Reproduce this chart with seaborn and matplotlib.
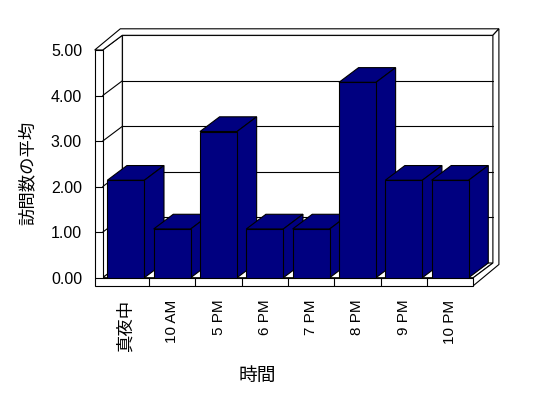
import numpy as np
import pandas as pd
import seaborn as sns
import matplotlib
matplotlib.use("Agg")
import matplotlib.pyplot as plt
from matplotlib.patches import Polygon
from matplotlib.lines import Line2D
from matplotlib.transforms import IdentityTransform

# ---- data ----
categories = ["真夜中", "10 AM", "5 PM", "6 PM", "7 PM", "8 PM", "9 PM", "10 PM"]
values = [2.14, 1.07, 3.21, 1.07, 1.07, 4.29, 2.14, 2.14]
y_ticks = [0, 1, 2, 3, 4, 5]
y_tick_labels = ["0.00", "1.00", "2.00", "3.00", "4.00", "5.00"]
x_title = "時間"
y_title = "訪問数の平均"

NAVY = "#000080"
LW = 0.8

sns.set_theme(style="white")
plt.rcParams["font.family"] = ["Liberation Sans", "Noto Sans CJK JP"]

W, H = 548, 398
fig = plt.figure(figsize=(W / 100, H / 100), dpi=100)
fig.patch.set_facecolor("white")
ax = fig.add_axes([102.7 / W, 1 - 277.7 / H, (473.3 - 102.7) / W, (277.7 - 50) / H])
ax.set_facecolor("none")

df = pd.DataFrame({"cat": categories, "val": values})
sns.barplot(data=df, x="cat", y="val", color=NAVY, saturation=1, width=0.8,
            edgecolor="black", linewidth=LW, errorbar=None, ax=ax)
bars = list(ax.patches)

X0, X1 = -0.5, len(categories) - 0.5
ax.set_xlim(X0, X1)
ax.set_ylim(0, 5)
for s in ax.spines.values():
    s.set_visible(False)
ax.set_yticks(y_ticks, y_tick_labels)
ax.tick_params(axis="y", length=0, pad=14.9, labelsize=11.5, colors="black")
ax.tick_params(axis="x", length=0, pad=15.7, labelsize=11, rotation=90, colors="black")
for lab in ax.get_xticklabels():
    if any(ord(c) > 0x2E80 for c in lab.get_text()):
        lab.set_fontsize(12.5)
ax.set_xlabel("")
ax.set_ylabel("")
ax.grid(False)

DX, DY = 19.6, 14.7   # depth offset (display px, up positive)
T = 8.0               # left wall thickness
F = 8.0               # floor thickness
WX, WY = 6.0, 6.5     # back wall thickness


def P(xd, yd, ox=0.0, oy=0.0):
    x, y = ax.transData.transform((xd, yd))
    return (x + ox, y + oy)


def poly(pts, fc="white", z=1.0):
    p = Polygon(pts, closed=True, facecolor=fc, edgecolor="black", linewidth=LW,
                transform=IdentityTransform(), clip_on=False, zorder=z)
    ax.add_artist(p)


def line(a, b, z=1.5):
    l = Line2D([a[0], b[0]], [a[1], b[1]], color="black", linewidth=LW,
               transform=IdentityTransform(), clip_on=False, zorder=z)
    ax.add_artist(l)


ymax = y_ticks[-1]
# back wall inner face
poly([P(X0, 0, DX, DY), P(X1, 0, DX, DY), P(X1, ymax, DX, DY), P(X0, ymax, DX, DY)], z=0.5)
# left wall inner face
poly([P(X0, ymax), P(X0, ymax, DX, DY), P(X0, 0, DX, DY), P(X0, 0)], z=0.6)
# floor top
poly([P(X0, 0), P(X1, 0), P(X1, 0, DX, DY), P(X0, 0, DX, DY)], z=0.7)
# top faces of walls
poly([P(X0, ymax, -T), P(X0, ymax), P(X0, ymax, DX, DY), P(X1, ymax, DX, DY),
      P(X1, ymax, DX + WX, DY + WY), P(X0, ymax, DX + WX - T, DY + WY)], z=0.8)
# right side face (back wall + floor)
poly([P(X1, 0), P(X1, 0, 0, -F), P(X1, 0, DX + WX, DY + WY - F),
      P(X1, ymax, DX + WX, DY + WY), P(X1, ymax, DX, DY), P(X1, 0, DX, DY)], z=0.8)
# front L-shaped face
poly([P(X0, ymax, -T), P(X0, ymax), P(X0, 0), P(X1, 0), P(X1, 0, 0, -F), P(X0, 0, -T, -F)], z=0.9)

# gridlines / ticks
for yv in y_ticks[:-1]:
    if yv > 0:
        line(P(X0, yv, DX, DY), P(X1, yv, DX, DY))
        line(P(X0, yv), P(X0, yv, DX, DY))
    line(P(X0, yv, -T), P(X0, yv))
for i in range(len(categories) - 1):
    b = i + 0.5
    line(P(b, 0), P(b, 0, 0, -F))

# 3D faces of bars
for i, patch in enumerate(bars):
    x = patch.get_x()
    w = patch.get_width()
    h = patch.get_height()
    zb = 3 + i * 0.1
    patch.set_zorder(zb + 0.05)
    poly([P(x, h), P(x + w, h), P(x + w, h, DX, DY), P(x, h, DX, DY)], fc=NAVY, z=zb)
    poly([P(x + w, 0), P(x + w, h), P(x + w, h, DX, DY), P(x + w, 0, DX, DY)], fc=NAVY, z=zb)

fig.text(27.5 / W, 1 - 172.5 / H, y_title, rotation=90, ha="center", va="center",
         fontsize=12.5, color="black")
fig.text(257.5 / W, 1 - 376 / H, x_title, ha="center", va="center",
         fontsize=13.5, color="black")

fig.savefig("out.png", dpi=100, facecolor="white")
